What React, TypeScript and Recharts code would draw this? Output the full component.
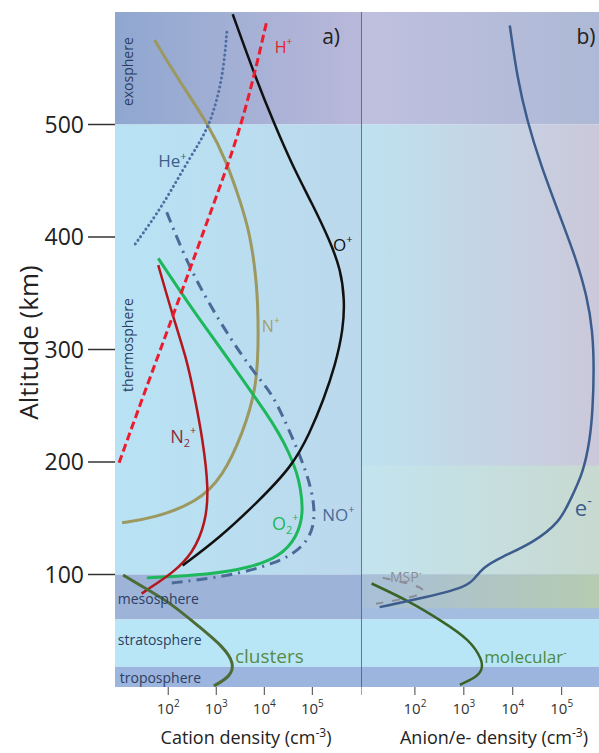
import React from "react";
import {
  Line,
  LineChart,
  ReferenceArea,
  ReferenceDot,
  ReferenceLine,
  XAxis,
  YAxis,
} from "recharts";

const FONT = "'Open Sans', 'Noto Sans', sans-serif";

// axes
const altDomain: [number, number] = [0, 600];
const altTicks = [100, 200, 300, 400, 500];
const densityTicks = [1e2, 1e3, 1e4, 1e5];
const domainA: [number, number] = [7.8, 1.03e6];
const domainB: [number, number] = [7.9, 5.8e5];

// atmospheric layers, km: [bottom, top]
const troposphere = [0, 18];
const stratosphere = [18, 60];
const mesosphere = [60, 100];
const thermosphere = [100, 500];
const exosphere = [500, 600];
// extra shading in panel b
const lowerIonosphere = [100, 197];
const dRegion = [70, 100];

// panel a: cations (altitude km / density cm^-3)
const oPlusAlt = [598, 540, 501, 464, 430, 397, 371, 344, 318, 286, 255, 226, 196, 164, 133, 108];
const oPlusN = [2.2e3, 6.8e3, 1.6e4, 3.8e4, 9.8e4, 2.3e5, 3.9e5, 4.7e5, 4.4e5, 3.0e5, 1.7e5, 8.9e4, 3.8e4, 7.1e3, 1.2e3, 200];

const hPlusAlt = [590, 501, 430, 344, 255, 196];
const hPlusN = [1.1e4, 3.6e3, 890, 166, 28, 8.9];

const hePlusAlt = [582, 542, 498, 471, 428, 393];
const hePlusN = [1660, 1380, 740, 282, 78, 20];

const nPlusAlt = [575, 542, 498, 466, 433, 404, 359, 315, 267, 226, 187, 164, 150, 146];
const nPlusN = [52, 151, 740, 1660, 3090, 5000, 7100, 7600, 7100, 3600, 1380, 400, 48, 11];

const n2PlusAlt = [375, 329, 291, 260, 220, 175, 146, 119, 101, 91, 83];
const n2PlusN = [62, 126, 245, 347, 525, 700, 600, 331, 120, 52, 28];

const o2PlusAlt = [381, 353, 324, 297, 264, 246, 226, 208, 190, 178, 155, 133, 116, 106, 100, 97];
const o2PlusN = [62, 170, 500, 1450, 5000, 1.0e4, 2.0e4, 3.3e4, 4.8e4, 5.6e4, 6.6e4, 4.8e4, 2.1e4, 5000, 740, 36];

const noPlusAlt = [422, 371, 324, 293, 273, 260, 226, 190, 164, 142, 124, 110, 98, 92];
const noPlusN = [93, 282, 1200, 3630, 8130, 1.5e4, 3.5e4, 7.8e4, 1.1e5, 1.1e5, 6.5e4, 1.86e4, 1660, 93];

const clustersAlt = [99.6, 89, 75, 53, 36, 21, 9, 1];
const clustersN = [11.5, 29.5, 110, 457, 1380, 2400, 1950, 890];

// panel b: anions / electrons
const eAlt = [588, 542, 504, 466, 418, 380, 347, 317, 282, 246, 220, 190, 166, 147, 128, 115, 106, 97, 89, 80, 71];
const eN = [8700, 1.23e4, 1.95e4, 3.6e4, 9.3e4, 2.0e5, 3.3e5, 4.3e5, 4.6e5, 4.3e5, 3.8e5, 2.75e5, 1.48e5, 9.3e4, 2.6e4, 5500, 2450, 1700, 1150, 178, 19];

const molecularAlt = [92, 76, 58, 42, 24, 15, 8, 2];
const molecularN = [13, 79, 372, 1320, 2400, 2400, 1700, 830];

const mspAlt = [97, 92, 86, 80, 74];
const mspN = [22, 79, 186, 100, 16];

const zip = (alt: number[], n: number[]) => alt.map((a, i) => ({ alt: a, n: n[i] }));

type NoteOpts = {
  x: number;
  y: number;
  text: string;
  sub?: string;
  sup?: string;
  color: string;
  size: number;
  anchor?: "start" | "middle" | "end";
  vertical?: boolean;
};

function note(key: string, o: NoteOpts) {
  return (
    <ReferenceDot
      key={key}
      x={o.x}
      y={o.y}
      r={0}
      shape={(p: any) => {
        const { cx, cy } = p;
        const small = Math.round(o.size * 0.62);
        return (
          <text
            x={cx}
            y={cy}
            fill={o.color}
            fontSize={o.size}
            fontFamily={FONT}
            textAnchor={o.anchor || "start"}
            dominantBaseline={o.vertical ? "central" : undefined}
            transform={o.vertical ? `rotate(-90 ${cx} ${cy})` : undefined}
          >
            {o.text}
            {o.sub && (
              <tspan fontSize={small} dy={o.size * 0.25}>
                {o.sub}
              </tspan>
            )}
            {o.sup && (
              <tspan fontSize={small} dy={o.sub ? -o.size * 0.75 : -o.size * 0.45}>
                {o.sup}
              </tspan>
            )}
          </text>
        );
      }}
    />
  );
}

function PowerTick(props: any) {
  const { x, y, payload } = props;
  const exp = Math.round(Math.log10(payload.value));
  if (exp < 2) return <g />;
  return (
    <text x={x} y={y + 17} textAnchor="middle" fontSize={15} fill="#333" fontFamily={FONT}>
      10
      <tspan fontSize={10} dy={-7}>
        {exp}
      </tspan>
    </text>
  );
}

function XTitle({ viewBox, text, shift }: any) {
  if (!viewBox) return null;
  return (
    <text
      x={viewBox.x + shift}
      y={viewBox.y + 57}
      textAnchor="middle"
      fontSize={18}
      fill="#222"
      fontFamily={FONT}
    >
      {text} (cm
      <tspan fontSize={12} dy={-7}>
        -3
      </tspan>
      <tspan dy={7}>)</tspan>
    </text>
  );
}

function AltitudeTitle({ viewBox }: any) {
  if (!viewBox) return null;
  const cx = viewBox.x + 28;
  const cy = viewBox.y + viewBox.height / 2 - 7;
  return (
    <text
      x={cx}
      y={cy}
      transform={`rotate(-90 ${cx} ${cy})`}
      textAnchor="middle"
      dominantBaseline="central"
      fontSize={26}
      fill="#222"
      fontFamily={FONT}
    >
      Altitude (km)
    </text>
  );
}

const band = (key: string, range: number[], fill: string) => (
  <ReferenceArea key={key} y1={range[0]} y2={range[1]} fill={fill} fillOpacity={1} stroke="none" />
);

const layerColor = "#2d3e62";

function PanelA() {
  return (
    <LineChart width={361} height={753} margin={{ top: 12, right: 0, bottom: 0, left: 0 }}>
      <defs>
        <linearGradient id="exoA" x1="0" y1="0" x2="1" y2="0">
          <stop offset="0%" stopColor="#8fa7d0" />
          <stop offset="100%" stopColor="#b9b8da" />
        </linearGradient>
        <linearGradient id="thermoA" x1="0" y1="0" x2="1" y2="0">
          <stop offset="0%" stopColor="#b8e3f4" />
          <stop offset="100%" stopColor="#bcd8ec" />
        </linearGradient>
      </defs>
      <XAxis
        type="number"
        dataKey="n"
        scale="log"
        domain={domainA}
        allowDataOverflow
        ticks={densityTicks}
        interval={0}
        tickSize={8}
        axisLine={false}
        tickLine={{ stroke: "#444" }}
        tick={<PowerTick />}
        height={66}
        label={<XTitle text="Cation density" shift={131} />}
      />
      <YAxis
        type="number"
        dataKey="alt"
        domain={altDomain}
        allowDataOverflow
        ticks={altTicks}
        interval={0}
        width={115}
        tickSize={27}
        tickMargin={4}
        axisLine={false}
        tickLine={{ stroke: "#333", strokeWidth: 1.5 }}
        tick={{ fontSize: 23, fill: "#222", fontFamily: FONT }}
        label={<AltitudeTitle />}
      />
      {band("exo", exosphere, "url(#exoA)")}
      {band("thermo", thermosphere, "url(#thermoA)")}
      {band("meso", mesosphere, "#9db4d8")}
      {band("strato", stratosphere, "#b8e6f7")}
      {band("tropo", troposphere, "#9cb5de")}

      <Line data={zip(nPlusAlt, nPlusN)} dataKey="alt" type="basis" stroke="#9c9860" strokeWidth={3} dot={false} isAnimationActive={false} />
      <Line data={zip(hePlusAlt, hePlusN)} dataKey="alt" type="basis" stroke="#4f6fa4" strokeWidth={3} strokeDasharray="0.1 4.5" strokeLinecap="round" dot={false} isAnimationActive={false} />
      <Line data={zip(noPlusAlt, noPlusN)} dataKey="alt" type="basis" stroke="#4b6a98" strokeWidth={3} strokeDasharray="11 6 2 6" dot={false} isAnimationActive={false} />
      <Line data={zip(o2PlusAlt, o2PlusN)} dataKey="alt" type="basis" stroke="#1cb85b" strokeWidth={3} dot={false} isAnimationActive={false} />
      <Line data={zip(n2PlusAlt, n2PlusN)} dataKey="alt" type="basis" stroke="#b3161c" strokeWidth={2.5} dot={false} isAnimationActive={false} />
      <Line data={zip(oPlusAlt, oPlusN)} dataKey="alt" type="basis" stroke="#111" strokeWidth={2.5} dot={false} isAnimationActive={false} />
      <Line data={zip(hPlusAlt, hPlusN)} dataKey="alt" type="basis" stroke="#ec1c2d" strokeWidth={3} strokeDasharray="8 4" dot={false} isAnimationActive={false} />
      <Line data={zip(clustersAlt, clustersN)} dataKey="alt" type="basis" stroke="#4d6b35" strokeWidth={3} dot={false} isAnimationActive={false} />

      {note("a", { x: 1.6e5, y: 572, text: "a)", color: "#222", size: 21 })}
      {note("h", { x: 1.65e4, y: 564, text: "H", sup: "+", color: "#e8202a", size: 16 })}
      {note("he", { x: 62, y: 462, text: "He", sup: "+", color: "#3d5f8a", size: 17 })}
      {note("o", { x: 2.7e5, y: 388, text: "O", sup: "+", color: "#111", size: 17 })}
      {note("n", { x: 8900, y: 316, text: "N", sup: "+", color: "#a39f6a", size: 16 })}
      {note("n2", { x: 110, y: 217, text: "N", sub: "2", sup: "+", color: "#8b2a3a", size: 18 })}
      {note("o2", { x: 1.45e4, y: 140, text: "O", sub: "2", sup: "+", color: "#1cb85b", size: 18 })}
      {note("no", { x: 1.6e5, y: 148, text: "NO", sup: "+", color: "#4b6a98", size: 17 })}
      {note("cl", { x: 2450, y: 21, text: "clusters", color: "#5a8a46", size: 19 })}
      {note("exo", { x: 14.5, y: 547, text: "exosphere", color: layerColor, size: 14, anchor: "middle", vertical: true })}
      {note("thermo", { x: 14.5, y: 304, text: "thermosphere", color: layerColor, size: 14, anchor: "middle", vertical: true })}
      {note("meso", { x: 8.9, y: 74, text: "mesosphere", color: layerColor, size: 14 })}
      {note("strato", { x: 8.9, y: 37, text: "stratosphere", color: layerColor, size: 14 })}
      {note("tropo", { x: 9.8, y: 3.5, text: "troposphere", color: layerColor, size: 14 })}
    </LineChart>
  );
}

function PanelB() {
  return (
    <LineChart width={238} height={753} margin={{ top: 12, right: 0, bottom: 0, left: 0 }}>
      <defs>
        <linearGradient id="exoB" x1="0" y1="0" x2="1" y2="0">
          <stop offset="0%" stopColor="#bfc0de" />
          <stop offset="100%" stopColor="#adb9d6" />
        </linearGradient>
        <linearGradient id="thermoB" x1="0" y1="0" x2="1" y2="0">
          <stop offset="0%" stopColor="#bee2f0" />
          <stop offset="100%" stopColor="#cbc8da" />
        </linearGradient>
        <linearGradient id="lowB" x1="0" y1="0" x2="1" y2="0">
          <stop offset="0%" stopColor="#c3e4ef" />
          <stop offset="100%" stopColor="#c8d9d0" />
        </linearGradient>
        <linearGradient id="dB" x1="0" y1="0" x2="1" y2="0">
          <stop offset="0%" stopColor="#a8bfd8" />
          <stop offset="100%" stopColor="#b6cbb0" />
        </linearGradient>
      </defs>
      <XAxis
        type="number"
        dataKey="n"
        scale="log"
        domain={domainB}
        allowDataOverflow
        ticks={[domainB[0], ...densityTicks]}
        interval={0}
        tickSize={8}
        axisLine={false}
        tickLine={{ stroke: "#444" }}
        tick={<PowerTick />}
        height={66}
        label={<XTitle text="Anion/e- density" shift={133} />}
      />
      <YAxis type="number" dataKey="alt" domain={altDomain} allowDataOverflow hide />
      {band("exo", exosphere, "url(#exoB)")}
      {band("thermo", thermosphere, "url(#thermoB)")}
      {band("low", lowerIonosphere, "url(#lowB)")}
      {band("meso", mesosphere, "#a3bde0")}
      {band("d", dRegion, "url(#dB)")}
      {band("strato", stratosphere, "#b8e6f7")}
      {band("tropo", troposphere, "#9cb5de")}
      <ReferenceLine x={domainB[0]} stroke="#4a5560" strokeWidth={1.5} />

      <Line data={zip(mspAlt, mspN)} dataKey="alt" type="basis" stroke="#8a8c98" strokeWidth={2} strokeDasharray="8 9" dot={false} isAnimationActive={false} />
      <Line data={zip(molecularAlt, molecularN)} dataKey="alt" type="basis" stroke="#3a6326" strokeWidth={2.5} dot={false} isAnimationActive={false} />
      <Line data={zip(eAlt, eN)} dataKey="alt" type="basis" stroke="#3b5c8c" strokeWidth={2.5} dot={false} isAnimationActive={false} />

      {note("b", { x: 2.0e5, y: 572, text: "b)", color: "#222", size: 21 })}
      {note("e", { x: 1.86e5, y: 152, text: "e", sup: "-", color: "#3b5c8c", size: 22 })}
      {note("mol", { x: 2600, y: 21, text: "molecular", sup: "-", color: "#4b8a3c", size: 17 })}
      {note("msp", { x: 31, y: 93, text: "MSP", sup: "-", color: "#8a8c98", size: 14 })}
    </LineChart>
  );
}

export default function App() {
  return (
    <div style={{ position: "absolute", left: 0, top: 0, width: 599, height: 753, background: "#fff", overflow: "hidden" }}>
      <div style={{ position: "absolute", left: 0, top: 0 }}>
        <PanelA />
      </div>
      <div style={{ position: "absolute", left: 361, top: 0 }}>
        <PanelB />
      </div>
    </div>
  );
}
